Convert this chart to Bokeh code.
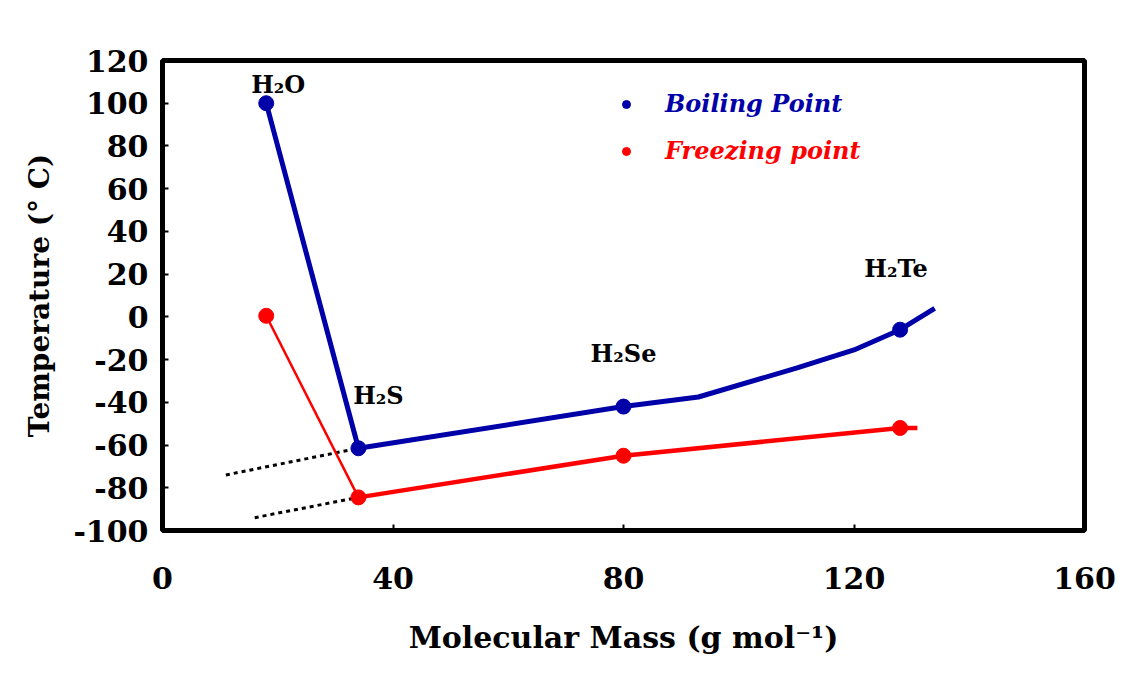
from bokeh.plotting import figure
from bokeh.models import Legend, LegendItem, FixedTicker, Range1d, ColumnDataSource
from bokeh.embed import file_html
from bokeh.resources import INLINE
from bokeh.core.properties import value

# ---- data ----
compounds = ["H\u2082O", "H\u2082S", "H\u2082Se", "H\u2082Te"]
mass = [18, 34, 80, 128]
boiling = [100, -61.5, -42, -6]
freezing = [0.5, -84.5, -65, -52]

# boiling-point trend line as drawn
boil_line_x = [18, 34, 80, 93, 110, 120, 128, 134]
boil_line_y = [100, -61.5, -42, -37.5, -24, -15.5, -6, 4]
# freezing-point trend line as drawn
freeze_drop_x = [18, 34]
freeze_drop_y = [0.5, -84.5]
freeze_line_x = [34, 80, 128, 131]
freeze_line_y = [-84.5, -65, -52, -52]
# dotted extrapolations
boil_extrap_x = [11, 34]
boil_extrap_y = [-74, -61.5]
freeze_extrap_x = [16, 34]
freeze_extrap_y = [-94, -84.5]

x_ticks = [0, 40, 80, 120, 160]
y_ticks = [-100, -80, -60, -40, -20, 0, 20, 40, 60, 80, 100, 120]

BLUE = "#0000A8"
RED = "#FF0000"
FONT = "DejaVu Serif"

p = figure(width=1119, height=664, output_backend="svg", toolbar_location=None,
           x_range=Range1d(0, 160), y_range=Range1d(-100, 120),
           min_border_left=162, min_border_right=35, min_border_top=60, min_border_bottom=134)
p.background_fill_color = "white"
p.border_fill_color = "white"
p.outline_line_color = "black"
p.outline_line_width = 5
p.xgrid.visible = False
p.ygrid.visible = False

# axes
p.xaxis.ticker = FixedTicker(ticks=x_ticks)
p.yaxis.ticker = FixedTicker(ticks=y_ticks)
p.xaxis.major_label_overrides = {t: str(t) for t in x_ticks}
p.yaxis.major_label_overrides = {t: str(t) for t in y_ticks}
for ax in (p.xaxis[0], p.yaxis[0]):
    ax.axis_line_color = None
    ax.major_tick_in = 6
    ax.major_tick_out = 0
    ax.major_tick_line_width = 2
    ax.major_tick_line_color = "black"
    ax.minor_tick_line_color = None
    ax.major_label_text_font = FONT
    ax.major_label_text_font_style = "bold"
    ax.major_label_text_font_size = "30px"
    ax.major_label_text_color = "black"
    ax.axis_label_text_font = FONT
    ax.axis_label_text_font_style = "bold"
    ax.axis_label_text_color = "black"
p.xaxis.axis_label_text_font_size = "30px"
p.yaxis.axis_label_text_font_size = "28px"
p.xaxis.major_label_standoff = 36
p.yaxis.major_label_standoff = 14
p.xaxis.axis_label = "Molecular Mass (g mol\u207b\u00b9)"
p.xaxis.axis_label_standoff = 28
p.yaxis.axis_label = "Temperature (\u00b0 C)"
p.yaxis.axis_label_standoff = 14

# dotted extrapolations
p.line(boil_extrap_x, boil_extrap_y, line_color="black", line_width=3, line_dash="4 4")
p.line(freeze_extrap_x, freeze_extrap_y, line_color="black", line_width=3, line_dash="4 4")

# lines
p.line(boil_line_x, boil_line_y, line_color=BLUE, line_width=5)
p.line(freeze_drop_x, freeze_drop_y, line_color=RED, line_width=2.5)
p.line(freeze_line_x, freeze_line_y, line_color=RED, line_width=4.5)

src = ColumnDataSource(dict(mass=mass, boiling=boiling, freezing=freezing, name=compounds,
                            dx=[12, 20, 0, -4], dy=[-19, -53, -53, -61]))
rb = p.scatter("mass", "boiling", source=src, size=15, color=BLUE)
rf = p.scatter("mass", "freezing", source=src, size=15, color=RED)

p.text("mass", "boiling", text="name", source=src, x_offset="dx", y_offset="dy",
       text_font=value(FONT), text_font_style="bold", text_font_size="24px",
       text_color="black", text_align="center", text_baseline="middle")

# legends
def make_legend(label, renderer, color, y):
    lg = Legend(items=[LegendItem(label=label, renderers=[renderer])],
                location=(454, y), orientation="vertical",
                glyph_width=20, glyph_height=20, label_height=20,
                label_standoff=29, padding=0, margin=0, spacing=0,
                border_line_color=None, background_fill_alpha=0,
                label_text_font=FONT, label_text_font_style="bold italic",
                label_text_font_size="24px", label_text_color=color)
    p.add_layout(lg, "center")

make_legend("Boiling Point", rb, BLUE, 412)
make_legend("Freezing point", rf, RED, 365)

open("out.html", "w").write(file_html(p, INLINE))
